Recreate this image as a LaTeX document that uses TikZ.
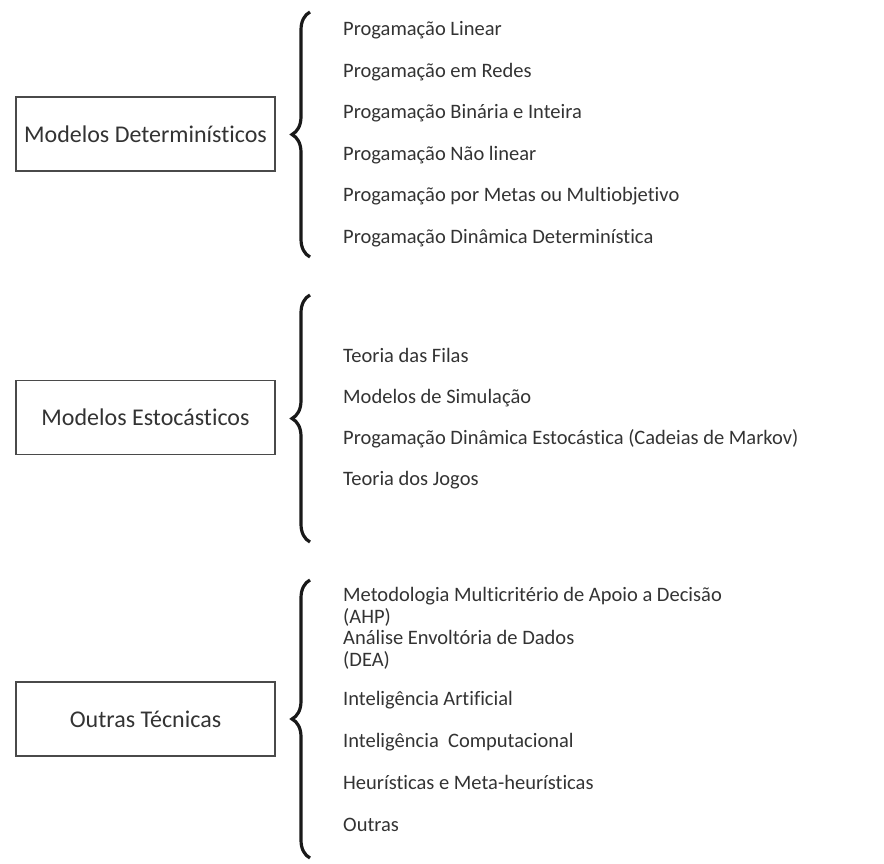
\documentclass[tikz,border=0pt]{standalone}
\usepackage{fontspec}
\setmainfont{Carlito}[Ligatures=NoCommon]
\usetikzlibrary{decorations.pathreplacing}
\definecolor{txtgray}{HTML}{333333}
\definecolor{linegray}{HTML}{4A4A4A}

\begin{document}
\begin{tikzpicture}[x=1pt, y=-1pt,
    catbox/.style={draw=linegray, line width=1.3pt, minimum width=259pt, minimum height=74pt,
        inner sep=0pt, font=\fontsize{24}{26}\selectfont, text=txtgray},
    item/.style={anchor=base west, inner sep=0pt, align=left,
        font=\fontsize{20.5}{22}\selectfont, text=txtgray},
    bracket/.style={decorate, decoration={brace, amplitude=18pt}, line width=3.2pt, black!90}
]
\useasboundingbox (0,0) rectangle (884,864);

% 1. Category boxes
\node[catbox] (det) at (145.5,134) {Modelos Determinísticos};
\node[catbox] (est) at (145.5,417.5) {Modelos Estocásticos};
\node[catbox] (out) at (145.5,719) {Outras Técnicas};

% 2. Brace end points
\coordinate (detTop) at (310,12);
\coordinate (detBot) at (310,257);
\coordinate (estTop) at (310,295);
\coordinate (estBot) at (310,542);
\coordinate (outTop) at (310,580);
\coordinate (outBot) at (310,858);

\draw[bracket] (detBot) -- (detTop);
\draw[bracket] (estBot) -- (estTop);
\draw[bracket] (outBot) -- (outTop);

% 3. Deterministic models
\foreach \i/\txt in {1/Progamação Linear, 2/Progamação em Redes, 3/Progamação Binária e Inteira,
    4/Progamação Não linear, 5/Progamação por Metas ou Multiobjetivo,
    6/Progamação Dinâmica Determinística} {
    \node[item] (det\i) at (343, {35.5+(\i-1)*41.6}) {\txt};
}

% 4. Stochastic models
\foreach \i/\txt in {1/Teoria das Filas, 2/Modelos de Simulação,
    3/Progamação Dinâmica Estocástica (Cadeias de Markov), 4/Teoria dos Jogos} {
    \node[item] (est\i) at (343, {362+(\i-1)*41.2}) {\txt};
}

% 5. Other techniques (two-line items sit on their last line)
\foreach \i/\y/\txt in {1/623/{Metodologia Multicritério de Apoio a Decisão\\(AHP)},
    2/666/{Análise Envoltória de Dados\\(DEA)}, 3/705.5/Inteligência Artificial,
    4/747.5/Inteligência\ \ Computacional, 5/789.5/Heurísticas e Meta-heurísticas,
    6/831.5/Outras} {
    \node[item] (out\i) at (343,\y) {\txt};
}

\end{tikzpicture}
\end{document}
